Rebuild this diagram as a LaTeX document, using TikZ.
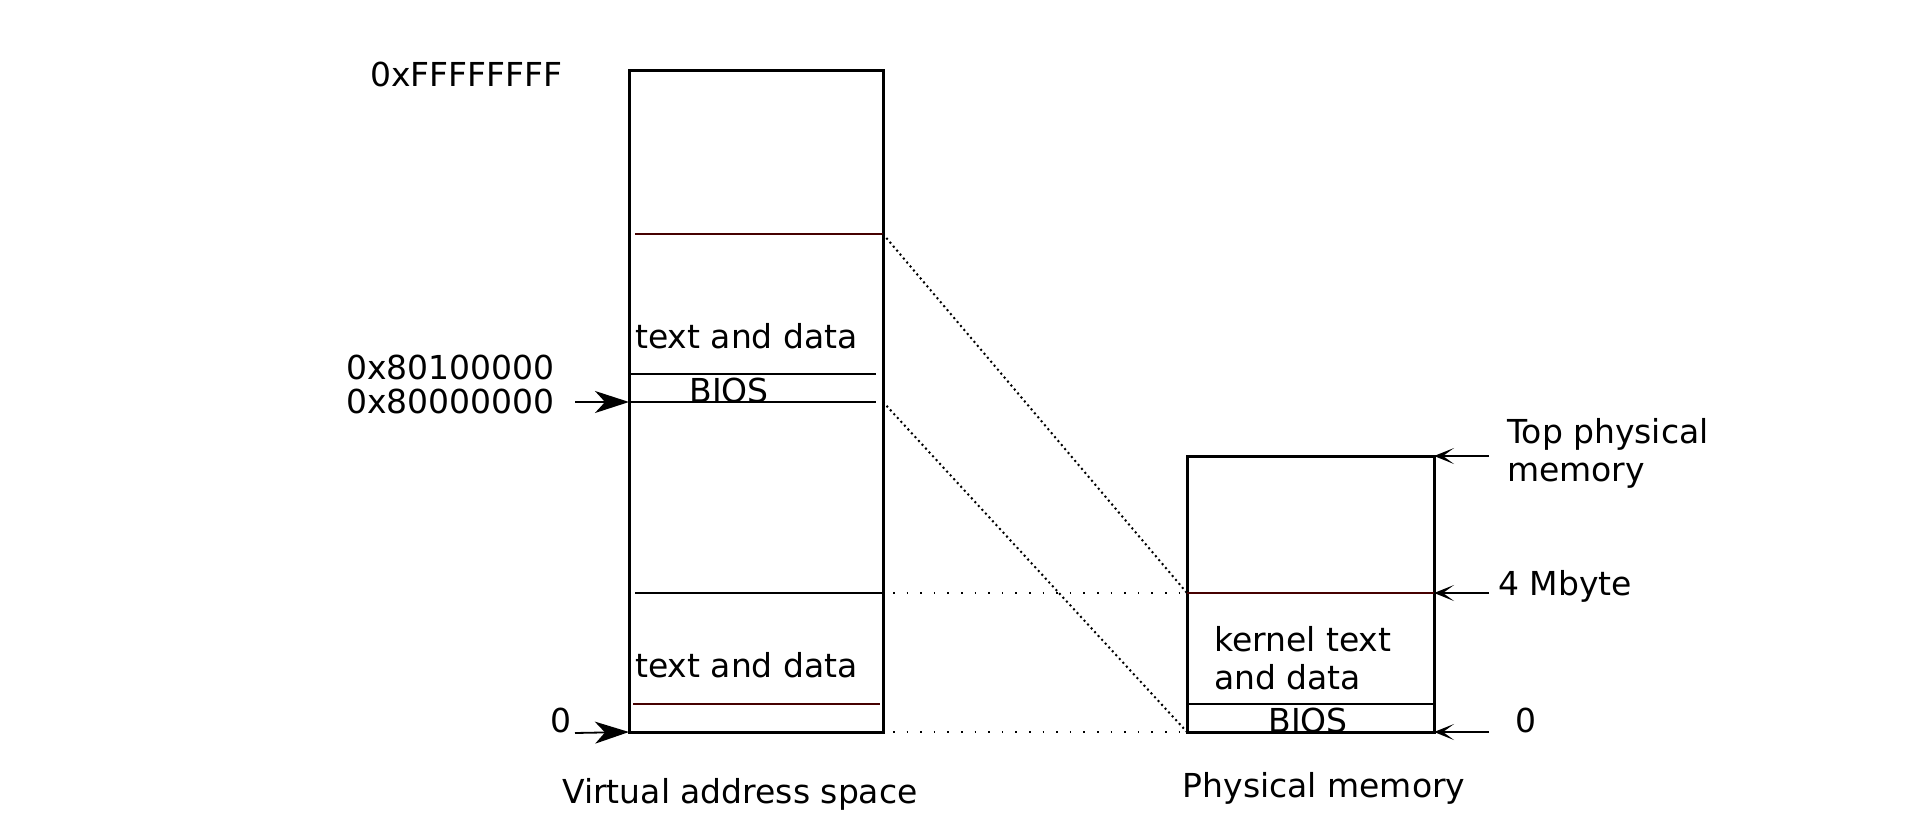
\documentclass[tikz,border=0pt]{standalone}
\usepackage{fontspec}
\setmainfont{DejaVu Sans}
\usetikzlibrary{arrows.meta}
\definecolor{darkred}{RGB}{70,0,0}
\begin{document}
\begin{tikzpicture}[x=1pt,y=-1pt,
  lbl/.style={font=\fontsize{33}{40}\selectfont, inner sep=0pt},
  membox/.style={draw, line width=3pt, inner sep=0pt, outer sep=0pt, anchor=north west},
  sep/.style={line width=1.3pt},
  sepred/.style={line width=1.3pt, draw=darkred},
  inarrow/.style={-{Stealth[length=34pt,width=22pt,inset=10pt]}, line width=1.8pt},
  outarrow/.style={-{Stealth[length=20pt,width=16pt,inset=11pt]}, line width=1.4pt},
  map/.style={line width=2pt, dash pattern=on 2pt off 3.2pt},
  maph/.style={line width=1.6pt, dash pattern=on 1.6pt off 12pt}]
\useasboundingbox (0,0) rectangle (1922,818);
% virtual address space
\node[membox, minimum width=254pt, minimum height=661pt] (vbox) at (629,71) {};
\coordinate (v1l) at (635,234); \coordinate (v1r) at (883,234);
\coordinate (v2l) at (629,374); \coordinate (v2r) at (876,374);
\coordinate (v3l) at (629,402); \coordinate (v3r) at (876,402);
\coordinate (v3e) at (883,402);
\coordinate (v4l) at (635,593); \coordinate (v4r) at (883,593);
\coordinate (v5l) at (633,704); \coordinate (v5r) at (880,704);
\coordinate (v0l) at (629,732); \coordinate (v0r) at (883,732);
\draw[sepred] (v1l) -- (v1r);
\draw[sep] (v2l) -- (v2r);
\draw[sep] (v3l) -- (v3r);
\draw[sep] (v4l) -- (v4r);
\draw[sepred] (v5l) -- (v5r);
\node[lbl, anchor=west] (vtd1) at (635,336) {text and data};
\node[lbl] (vbios) at (729,390) {BIOS};
\node[lbl, anchor=west] (vtd2) at (635,665) {text and data};
\node[lbl, anchor=east] (aff) at (563,74) {0xFFFFFFFF};
\node[lbl, anchor=east] (a801) at (555,367) {0x80100000};
\node[lbl, anchor=east] (a800) at (555,401) {0x80000000};
\node[lbl] (a0) at (561,720) {0};
\coordinate (s800) at (575,402);
\coordinate (s0) at (575,733);
\draw[inarrow] (s800) -- (v3l);
\draw[inarrow] (s0) -- (v0l);
\node[lbl] (vcap) at (740,794) {Virtual address space};
% physical memory
\node[membox, minimum width=247pt, minimum height=276pt] (pbox) at (1187,456) {};
\coordinate (ptl) at (1434,456);
\coordinate (p4l) at (1187,593); \coordinate (p4r) at (1434,593);
\coordinate (p1l) at (1187,704); \coordinate (p1r) at (1434,704);
\coordinate (p0l) at (1187,732); \coordinate (p0r) at (1434,732);
\draw[sepred] (p4l) -- (p4r);
\draw[sep] (p1l) -- (p1r);
\node[lbl, anchor=west, align=left] (pk) at (1214,658) {kernel text\\[-2pt]and data};
\node[lbl] (pbios) at (1308,720) {BIOS};
\coordinate (ptop) at (1489,456);
\coordinate (p4m) at (1489,593);
\coordinate (pzero) at (1489,732);
\draw[outarrow] (ptop) -- (ptl);
\draw[outarrow] (p4m) -- (p4r);
\draw[outarrow] (pzero) -- (p0r);
\begin{scope}
\clip (1495,400) rectangle (1706,500);
\node[lbl, anchor=west, align=left] (ltop) at (1507,453) {Top physical\\[-2pt]memory};
\end{scope}
\node[lbl, anchor=west] (l4m) at (1498,586) {4 Mbyte};
\node[lbl] (l0) at (1526,720) {0};
\node[lbl] (pcap) at (1324,788) {Physical memory};
% mappings
\draw[map] (v1r) -- (p4l);
\draw[map] (v3e) -- (p0l);
\draw[maph] ([xshift=10pt]v4r) -- (p4l);
\draw[maph] ([xshift=10pt]v0r) -- (p0l);
\end{tikzpicture}
\end{document}
